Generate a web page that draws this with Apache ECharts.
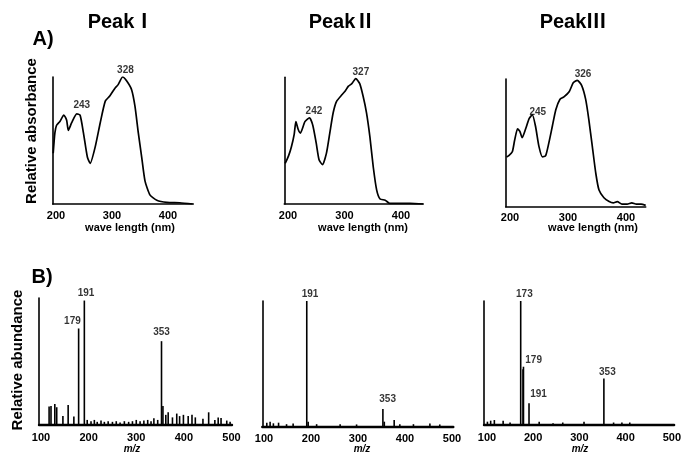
<!DOCTYPE html>
<html>
<head>
<meta charset="utf-8">
<script src="https://cdn.jsdelivr.net/npm/echarts/dist/echarts.min.js"></script>
<style>
  * { margin: 0; padding: 0; }
  body { background: #fff; }
  #chart { width: 684px; height: 456px; }
</style>
</head>
<body>
<div id="chart"></div>
<script>
// A) UV spectra  [wave length (nm), relative absorbance]
var uvPeakI = [[195,0.40],[198,0.56],[201,0.62],[207,0.65],[214,0.70],[219,0.66],[222,0.58],[228,0.64],[237,0.71],[243,0.70],[249,0.56],[256,0.37],[261,0.32],[270,0.45],[279,0.64],[288,0.81],[296,0.85],[305,0.91],[311,0.94],[319,1.0],[326,0.97],[335,0.90],[341,0.77],[347,0.56],[353,0.37],[359,0.18],[368,0.07],[380,0.03],[398,0.013],[421,0.01],[444,0.0]];
var uvPeakII = [[195,0.32],[201,0.38],[206,0.45],[211,0.55],[214,0.65],[218,0.59],[222,0.56],[230,0.65],[238,0.68],[244,0.62],[250,0.48],[255,0.35],[261,0.31],[268,0.40],[274,0.56],[280,0.72],[286,0.81],[295,0.86],[301,0.89],[307,0.93],[313,0.95],[320,0.99],[327,0.95],[333,0.85],[339,0.72],[345,0.53],[351,0.29],[357,0.11],[363,0.04],[372,0.03],[380,0.005],[392,0.005],[416,0.005],[439,0]];
var uvPeakIII = [[194,0.39],[198,0.40],[204,0.43],[208,0.52],[213,0.61],[217,0.59],[221,0.54],[227,0.61],[233,0.69],[238.5,0.72],[244,0.63],[250,0.47],[256,0.39],[261.5,0.40],[267,0.50],[273,0.63],[279,0.76],[286,0.84],[293,0.86],[302,0.90],[309,0.97],[316,0.99],[323.5,0.95],[330.5,0.84],[336,0.68],[342,0.47],[348,0.26],[353.5,0.13],[362,0.07],[371,0.04],[378,0.03],[385,0.04],[393,0.02],[402,0.02],[410,0.03],[418,0.02],[426,0.02],[434,0.01]];
// peak labels [text, nm, absorbance]
var uvLabelsI = [['243',246,0.78],['328',324,1.05]];
var uvLabelsII = [['242',246,0.73],['327',329,1.04]];
var uvLabelsIII = [['245',248,0.74],['326',326,1.04]];

// B) mass spectra  [m/z, relative abundance %]
var msMainI = [[179,76],[191,98],[353,66]];
var msMinorI = [[117,14.5],[121,15],[129,16.6],[133,14],[146,7],[157,15.8],[169,6.6],[197,4],[205,3],[212,4],[218,2.5],[226,3.5],[233,2.5],[241,3],[250,2.5],[258,3],[266,2],[275,3],[284,2.5],[292,3],[300,4],[308,3],[316,3.5],[324,4],[331,3],[337,5.3],[345,4],[356,15],[362,8],[367,10],[376,6],[385,9],[391,7],[399,8],[409,7],[417,8],[424,6],[440,5],[452,10],[465,4],[472,6],[478,5.5],[490,3.5],[497,2.5]];
var msMainII = [[191,100],[353,14]];
var msMinorII = [[106,3.2],[113,4],[120,2.7],[131,3.2],[148,2],[162,2.5],[194,4],[212,2],[262,2],[297,1.8],[356,4],[377,5.3],[389,2],[418,2],[453,2.5],[474,1.8]];
var msMainIII = [[173,100],[178,45],[179,47],[191,17.5],[353,37.6]];
var msMinorIII = [[101,2.7],[108,3.5],[116,4],[135,3.5],[150,2],[213,2.7],[243,1.5],[264,2],[310,2.7],[374,2],[392,2],[409,2]];
var msLabelsI = [['191',194.5,103.5],['179',166,82],['353',353,73]];
var msLabelsII = [['191',198,105.6],['353',363,22]];
var msLabelsIII = [['173',181,105.6],['179',201,52.4],['191',211.7,25],['353',360.6,42.3]];

var peakTitles = ['PeakⅠ', 'PeakⅡ', 'PeakⅢ'];

var FONT = "'Liberation Sans', Arial, 'Noto Sans CJK JP', sans-serif";

var chart = echarts.init(document.getElementById('chart'));

// panel boxes (px) and axis ranges
var panels = [
  {left: 52.7, top: 77, width: 140.6, height: 127, min: 194.1, max: 445.2, ymax: 1, kind: 'uv'},
  {left: 284.3, top: 77.3, width: 139, height: 126.7, min: 193.5, max: 439.5, ymax: 1, kind: 'uv'},
  {left: 505.7, top: 79, width: 140, height: 127.7, min: 192.6, max: 434, ymax: 1, kind: 'uv'},
  {left: 39, top: 298, width: 193, height: 127, min: 95.8, max: 501, ymax: 100, kind: 'ms'},
  {left: 262.3, top: 301, width: 191, height: 125.7, min: 96.4, max: 502.8, ymax: 100, kind: 'ms'},
  {left: 484, top: 301, width: 193.3, height: 124, min: 93.6, max: 504.9, ymax: 100, kind: 'ms'}
];

var uvData = [uvPeakI, uvPeakII, uvPeakIII];
var uvLabels = [uvLabelsI, uvLabelsII, uvLabelsIII];
var msData = [msMainI.concat(msMinorI), msMainII.concat(msMinorII), msMainIII.concat(msMinorIII)];
var msLabels = [msLabelsI, msLabelsII, msLabelsIII];

var grids = [], xAxes = [], yAxes = [], series = [];
panels.forEach(function (p, i) {
  grids.push({left: p.left, top: p.top, width: p.width, height: p.height});
  xAxes.push({
    type: 'value', gridIndex: i, min: p.min, max: p.max,
    axisLine: {show: true, onZero: false, lineStyle: {color: '#000', width: p.kind == 'uv' ? 1.6 : 2.4}},
    axisTick: {show: false},
    splitLine: {show: false},
    axisLabel: {
      color: '#000', fontFamily: FONT, fontWeight: 'bold', fontSize: 11,
      margin: p.kind == 'uv' ? 6 : 7,
      formatter: function (v) { return v % 100 === 0 ? String(v) : ''; }
    }
  });
  yAxes.push({
    type: 'value', gridIndex: i, min: 0, max: p.ymax,
    axisLine: {show: true, lineStyle: {color: '#000', width: 1.6}},
    axisTick: {show: false}, axisLabel: {show: false}, splitLine: {show: false}
  });
});

function labelSeries(list, idx) {
  return {
    type: 'scatter', xAxisIndex: idx, yAxisIndex: idx, clip: false, silent: true,
    symbolSize: 0,
    data: list.map(function (d) { return {value: [d[1], d[2]], name: d[0]}; }),
    label: {
      show: true, position: 'inside', formatter: '{b}',
      color: '#000', fontFamily: FONT, fontWeight: 'bold', fontSize: 10
    }
  };
}

for (var i = 0; i < 3; i++) {
  series.push({
    type: 'line', xAxisIndex: i, yAxisIndex: i, data: uvData[i],
    showSymbol: false, smooth: 0.2,
    lineStyle: {color: '#000', width: 1.7}
  });
  series.push(labelSeries(uvLabels[i], i));
  series.push({
    type: 'bar', xAxisIndex: i + 3, yAxisIndex: i + 3, data: msData[i],
    barWidth: 1.6, itemStyle: {color: '#000'}
  });
  series.push(labelSeries(msLabels[i], i + 3));
}

var titleX = [121, 342, 573];
var graphics = [];
peakTitles.forEach(function (t, i) {
  graphics.push({type: 'text', x: titleX[i], y: 22,
    style: {text: t, font: 'bold 20px ' + FONT, fill: '#000', align: 'center', verticalAlign: 'middle'}});
});
graphics.push({type: 'text', x: 43, y: 39,
  style: {text: 'A)', font: 'bold 20px ' + FONT, fill: '#000', align: 'center', verticalAlign: 'middle'}});
graphics.push({type: 'text', x: 42, y: 277,
  style: {text: 'B)', font: 'bold 20px ' + FONT, fill: '#000', align: 'center', verticalAlign: 'middle'}});
graphics.push({type: 'text', x: 32, y: 131, rotation: Math.PI / 2,
  style: {text: 'Relative absorbance', font: 'bold 15px ' + FONT, fill: '#000', align: 'center', verticalAlign: 'middle'}});
graphics.push({type: 'text', x: 18, y: 360, rotation: Math.PI / 2,
  style: {text: 'Relative abundance', font: 'bold 15px ' + FONT, fill: '#000', align: 'center', verticalAlign: 'middle'}});
[130, 363, 593].forEach(function (x) {
  graphics.push({type: 'text', x: x, y: 228,
    style: {text: 'wave length (nm)', font: 'bold 11px ' + FONT, fill: '#000', align: 'center', verticalAlign: 'middle'}});
});
[132, 362, 580].forEach(function (x) {
  graphics.push({type: 'text', x: x, y: 449,
    style: {text: 'm/z', font: 'italic bold 10px ' + FONT, fill: '#000', align: 'center', verticalAlign: 'middle'}});
});

chart.setOption({
  animation: false,
  backgroundColor: '#fff',
  grid: grids,
  xAxis: xAxes,
  yAxis: yAxes,
  series: series,
  graphic: graphics
});
</script>
</body>
</html>
